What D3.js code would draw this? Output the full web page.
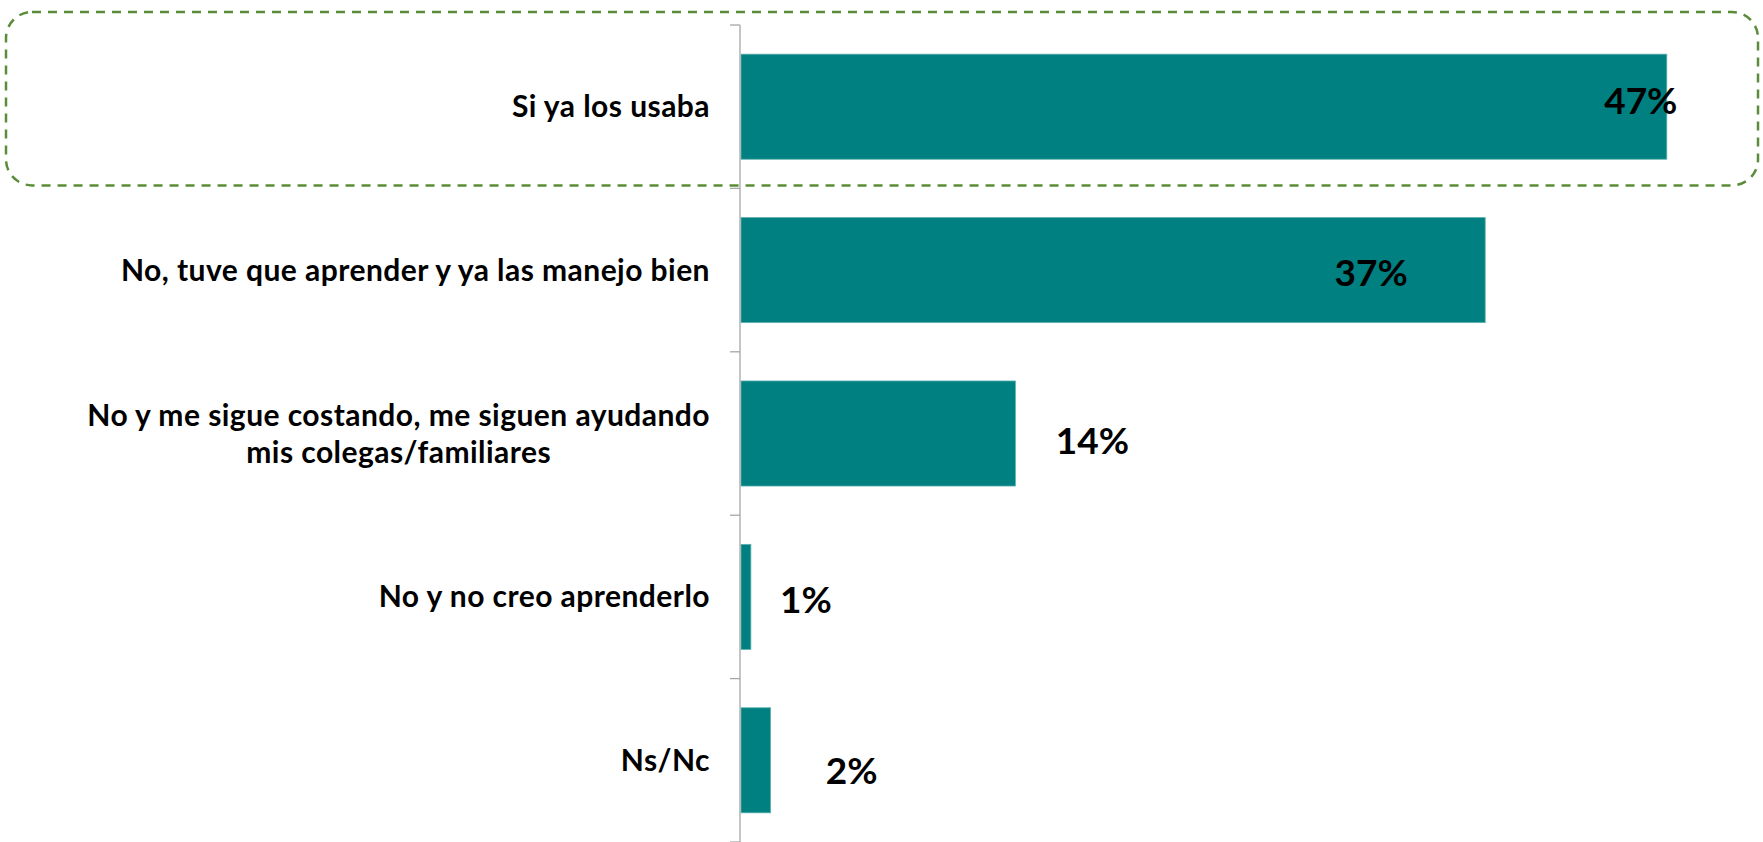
<!DOCTYPE html>
<html>
<head>
<meta charset="utf-8">
<script src="https://cdn.jsdelivr.net/npm/d3@7"></script>
<style>
  html, body { margin: 0; padding: 0; background: #fff; }
  svg { display: block; }
</style>
</head>
<body>
<main></main>
<script>
// data
const categories = [
  'Si ya los usaba',
  'No, tuve que aprender y ya las manejo bien',
  'No y me sigue costando, me siguen ayudando\nmis colegas/familiares',
  'No y no creo aprenderlo',
  'Ns/Nc'
];
const values = [46.9, 37.7, 13.9, 0.5, 1.5];
const valueLabels = ['47%', '37%', '14%', '1%', '2%'];

// label nudges (px), like the hand-placed labels of the original
const labelDx = [-26, -114, 77, 55, 81];
const labelDy = [-6, 2.5, 7, 2.5, 10];

const width = 1763;
const height = 842;
const axisX = 740;
const plotTop = 25;

const svg = d3.select('main')
  .append('svg')
  .attr('width', width)
  .attr('height', height);

// scales
const xScale = d3.scaleLinear()
  .domain([0, 50])
  .range([axisX + 1, axisX + 1 + 50 * 19.74]);

const yScale = d3.scaleBand()
  .domain(categories)
  .range([plotTop, height])
  .paddingInner(0.357)
  .paddingOuter(0.357 / 2);

const step = yScale.step();
const boundary = i => plotTop + i * step;

// highlight box round the first answer
svg.append('rect')
  .attr('x', 6)
  .attr('y', boundary(0) - 13)
  .attr('width', 1752)
  .attr('height', step + 10)
  .attr('rx', 26)
  .attr('ry', 26)
  .attr('fill', 'none')
  .attr('stroke', '#5b8c3a')
  .attr('stroke-width', 2.5)
  .attr('stroke-dasharray', '9 7');

// bars
svg.selectAll('rect.bar')
  .data(values)
  .enter()
  .append('rect')
  .attr('class', 'bar')
  .attr('x', xScale(0))
  .attr('y', (d, i) => yScale(categories[i]))
  .attr('width', d => xScale(d) - xScale(0))
  .attr('height', yScale.bandwidth())
  .attr('fill', '#008080')
  .attr('stroke', '#5fb0b0')
  .attr('stroke-width', 0.8);

// axis line and ticks between the categories
const axis = svg.append('g').attr('stroke', '#a6a6a6').attr('stroke-width', 1.3);
axis.append('line')
  .attr('x1', axisX).attr('x2', axisX)
  .attr('y1', plotTop).attr('y2', height);
axis.selectAll('line.tick')
  .data(d3.range(categories.length + 1))
  .enter()
  .append('line')
  .attr('class', 'tick')
  .attr('x1', axisX - 10).attr('x2', axisX)
  .attr('y1', d => boundary(d)).attr('y2', d => boundary(d));

// category labels, right aligned, multi-line blocks centred
const labelRight = 710;
const lineGap = 37;
categories.forEach((c, i) => {
  const lines = c.split('\n');
  const cy = yScale(c) + yScale.bandwidth() / 2;
  const t = svg.append('text')
    .attr('font-family', 'Lato, sans-serif')
    .attr('font-weight', 700)
    .attr('font-size', 30)
    .attr('letter-spacing', 0.45)
    .attr('fill', '#000');
  lines.forEach((ln, j) => {
    t.append('tspan')
      .attr('y', cy + 10.5 + (j - (lines.length - 1) / 2) * lineGap)
      .text(ln);
  });
  const spans = t.selectAll('tspan').nodes();
  const maxW = d3.max(spans, n => n.getComputedTextLength());
  if (lines.length > 1) {
    t.attr('text-anchor', 'middle');
    t.selectAll('tspan').attr('x', labelRight - maxW / 2);
  } else {
    t.attr('text-anchor', 'end');
    t.selectAll('tspan').attr('x', labelRight);
  }
});

// value labels
svg.selectAll('text.value')
  .data(values)
  .enter()
  .append('text')
  .attr('class', 'value')
  .attr('x', (d, i) => xScale(d) + labelDx[i])
  .attr('y', (d, i) => yScale(categories[i]) + yScale.bandwidth() / 2 + 13.5 + labelDy[i])
  .attr('text-anchor', 'middle')
  .attr('font-family', 'Lato, sans-serif')
  .attr('font-weight', 700)
  .attr('font-size', 37)
  .attr('fill', '#000')
  .text((d, i) => valueLabels[i]);
</script>
</body>
</html>
